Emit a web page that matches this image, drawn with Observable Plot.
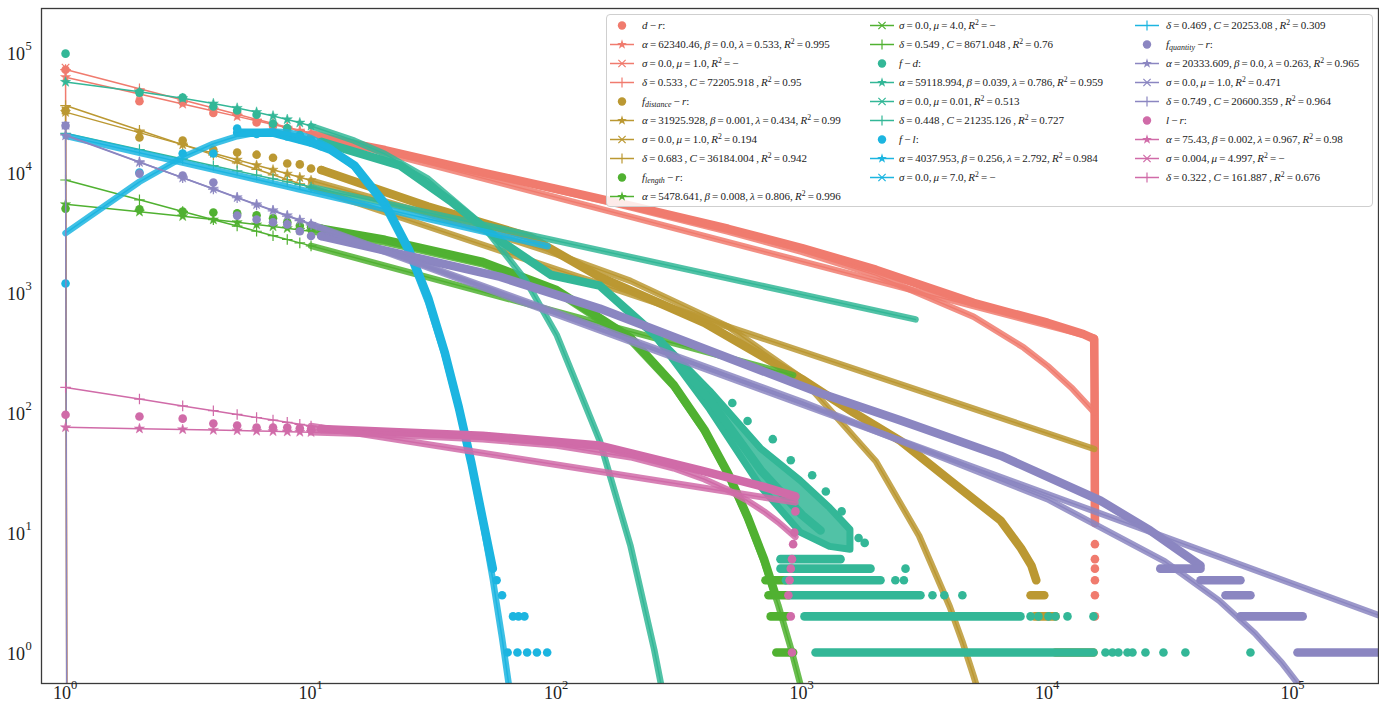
<!DOCTYPE html>
<html><head><meta charset="utf-8">
<script src="https://cdn.jsdelivr.net/npm/d3@7"></script>
<script src="https://cdn.jsdelivr.net/npm/@observablehq/plot@0.6"></script>
<style>
body{margin:0;background:#fff;}
#wrap{position:relative;width:1379px;height:715px;overflow:hidden;}
#legendBox{position:absolute;left:606px;top:14px;width:767px;height:193px;border:1px solid #cfcfcf;border-radius:4px;background:rgba(255,255,255,0.85);box-sizing:border-box;}
.li{position:absolute;height:19px;line-height:19px;white-space:nowrap;font-family:"Liberation Serif","DejaVu Serif",serif;font-size:11px;word-spacing:-0.6px;color:#1a1a1a;}
.li sup{font-size:0.7em;vertical-align:0.5em;line-height:0;}
.li sub{font-size:0.72em;vertical-align:-0.3em;line-height:0;}
.lh{position:absolute;}
</style></head><body><div id="wrap"></div>
<script>
// ---------- tick labels ----------
const X_TICKS = [1, 10, 100, 1000, 10000, 100000];
const Y_TICKS = [1, 10, 100, 1000, 10000, 100000];
const EXPONENTS = ["0", "1", "2", "3", "4", "5"];

// ---------- d - r ----------
const dr_dots = [[1,72000],[2,39300],[3,38500],[4,31400],[5,31400],[6,26200],[7,24500],[8,22400],[9,20300],[10,20000],[11,19500]];
const dr_band = [[11,19500],[20,15400],[50,10000],[100,7300],[200,5300],[500,3400],[1000,2350],[2000,1550],[5000,820],[10000,560],[14000,450],[15500,410],[15550,150],[15600,12]];
const dr_rows = [];
const dr_singles = [[15600,8],[15600,6],[15600,5],[15600,4],[15600,3],[15600,2]];
const dr_alpha = [[1,62332],[2,45104],[3,37323],[4,32629],[5,29400],[6,27000],[7,25130],[8,23608],[9,22343],[10,21270],[20,15348],[50,9968],[100,7167],[200,5121],[500,3217],[1000,2186],[2000,1398],[5000,628],[8000,348],[10000,244.5],[12500,161.6],[15500,100.7]];
const dr_sigma = [[1,75000],[2,1e-300]];
const dr_delta = [[1,72206],[2,49902],[3,40204],[4,34486],[5,30622],[6,27785],[7,25597],[8,23835],[9,22384],[10,21164],[15500,421.8]];

// ---------- f_distance - r ----------
const fdist_dots = [[1,32900],[2,19600],[3,18500],[4,15500],[5,14700],[6,14100],[7,13300],[8,11900],[9,11700],[10,10800],[11,10500]];
const fdist_band = [[11,10500],[30,5200],[78,2900],[150,1350],[400,560],[1000,190],[1622,100],[2518,58],[4027,27],[6440,12.6],[7800,7.4],[8600,5.3],[9000,4]];
const fdist_rows = [[8530,9700,3],[8860,10780,2],[10780,15390,1]];
const fdist_singles = [];
const fdist_alpha = [[1,31894],[2,21523],[3,17093],[4,14510],[5,12777],[6,11510],[7,10538],[8,9761],[9,9125],[10,8588],[20,5742],[50,3318],[100,2090],[200,1252],[500,520],[1000,192.8],[2000,39.2],[3000,9.38],[4000,2.40],[4500,1.234],[5000,0.638],[5300,0.43]];
const fdist_sigma = [[1,32900],[2,1e-300]];
const fdist_delta = [[1,36184],[2,22539],[3,17087],[4,14040],[5,12053],[6,10642],[7,9578],[8,8746],[9,8069],[10,7508],[15500,49.7]];

// ---------- f_length - r ----------
const flen_dots = [[1,5010],[2,4950],[3,4730],[4,4650],[5,4570],[6,4400],[7,4160],[8,3850],[9,3600],[10,3500],[11,3400]];
const flen_band = [[11,3400],[20,2750],[50,1800],[100,1050],[200,420],[300,170],[400,72],[500,31],[600,13.5],[700,6],[780,3]];
const flen_rows = [[710,860,4],[730,880,3],[745,873,2],[786,920,1]];
const flen_singles = [];
const flen_alpha = [[1,5435],[2,4713],[3,4322],[4,4055],[5,3852],[6,3689],[7,3551],[8,3433],[9,3328],[10,3236],[20,2611],[50,1719],[100,1007],[200,395.8],[300,164.4],[400,69.8],[500,30.06],[600,13.04],[700,5.68],[800,2.49],[900,1.094],[1000,0.481]];
const flen_sigma = [];
const flen_delta = [[1,8671],[2,5927],[3,4744],[4,4051],[5,3584],[6,3242],[7,2979],[8,2769],[9,2595],[10,2449],[920,204.6]];

// ---------- f - d ----------
const fd_dots = [[1,98000],[2,46400],[3,42200],[4,35500],[5,32900],[6,30400],[7,25600],[8,23500],[9,20500],[10,18500],[11,18000]];
const fd_band = [[11,18000],[23,11500],[37,5800],[59,2700],[95,1400],[150,1143],[250,450],[423,126],[680,33],[1000,14],[1190,10.4]];
// spread of the dense f-d cloud: lower and upper edges
const fd_cloud = [[250,450],[423,105],[680,24],[986,10],[1300,7.6],[1575,7.2]];
const fd_cloud_top = [[250,450],[423,150],[680,50],[986,27],[1300,16],[1575,10.5]];
const fd_rows = [[817,1435,6],[817,1901,5],[860,2088,4],[898,3038,3],[1023,7762,2],[1135,15390,1]];
const fd_singles = [[520,120],[600,85],[760,60],[900,40],[1100,30],[1250,22],[1450,15],[1700,9],[1800,8.2],[2640,5],[2400,4],[2600,4],[3400,3],[3800,3],[4500,3],[8530,2],[9190,2],[10090,2],[10780,2],[12060,2],[15390,2],[17220,1],[18390,1],[19450,1],[21170,1],[22190,1],[25060,1],[29670,1],[36450,1],[67100,1]];
const fd_alpha = [[1,56860],[2,47150],[3,41575],[4,37599],[5,34469],[6,31885],[7,29670],[8,27731],[9,26009],[10,24454],[15,18450],[20,14274],[30,8862],[50,3642],[75,1259],[100,446.7],[150,58.25],[200,7.79],[250,1.057],[270,0.4746]];
const fd_sigma = [];
const fd_delta = [[1,21235],[2,15568],[3,12981],[4,11412],[5,10327],[6,9516],[7,8881],[8,8365],[9,7936],[10,7568],[2900,597]];

// ---------- f - l ----------
const fl_dots = [[1,1190],[2,10000],[3,14400],[4,14400],[5,23300],[6,21000],[7,21500],[8,20000],[9,19000],[10,17800],[11,16600]];
const fl_band = [[5,21500],[7,21500],[10,17800],[12,15500],[15,11500],[20,5500],[25,2300],[30,900],[35,320],[40,110],[45,38],[50,13],[55,5]];
const fl_rows = [];
const fl_singles = [[57,4],[60,3],[66.5,2],[70,2],[74,2],[63.2,1],[69.3,1],[75.9,1],[83.2,1],[91.6,1]];
const fl_alpha = [[1,3128],[2,8380],[3,13418],[4,17392],[5,20083],[6,21570],[7,21990],[8,21640],[9,20683],[10,19337],[12,16070],[15,11116],[20,5176],[25,2148],[30,827],[35,302.9],[40,107.0],[45,36.77],[50,12.35],[55,4.08],[60,1.32],[65,0.425]];
const fl_sigma = [];
const fl_delta = [[1,20253],[2,14633],[3,12099],[4,10572],[5,9521],[6,8741],[7,8131],[8,7637],[9,7226],[10,6878],[92,2430]];

// ---------- f_quantity - r ----------
const fq_dots = [[1,24600],[2,9800],[3,9440],[4,8260],[5,4380],[6,4060],[7,3850],[8,3700],[9,3240],[10,2960],[11,2960]];
const fq_band = [[11,2960],[23,2100],[59,1350],[150,735],[1200,144],[2518,86],[6440,43.7],[16400,18.5],[26200,10.4],[42000,5.3]];
const fq_rows = [[28800,42000,5],[42000,61100,4],[53100,67100,3],[61100,109500,2],[104300,230000,1]];
const fq_singles = [];
const fq_alpha = [[1,20333],[2,12200],[3,9048],[4,7320],[5,6210],[6,5429],[7,4846],[8,4392],[9,4028],[10,3725],[100,682.8],[1000,122.7],[10000,18.96],[30000,5.76],[50000,2.705],[70000,1.444],[90000,0.821],[110000,0.484]];
const fq_sigma = [[1,24600],[2,1e-300]];
const fq_delta = [[1,20600],[2,12257],[3,9047],[4,7292],[5,6171],[6,5383],[7,4796],[8,4341],[9,3974],[10,3671],[230000,2.0]];

// ---------- l - r ----------
const lr_dots = [[1,96],[2,92.6],[3,89],[4,81],[5,78],[6,75],[7,75],[8,75],[9,74],[10,73],[11,73]];
const lr_band = [[11,73],[50,64],[150,53],[386,33],[700,24],[940,20]];
const lr_rows = [];
const lr_singles = [[940,15],[930,10],[920,8],[910,6],[900,5],[890,4],[880,3],[900,2],[910,1]];
const lr_alpha = [[1,75.28],[2,73.43],[3,72.31],[4,71.48],[5,70.82],[6,70.25],[7,69.75],[8,69.3],[9,68.9],[10,68.51],[20,65.65],[50,59.98],[100,53.05],[200,42.45],[300,34.3],[400,27.81],[500,22.6],[600,18.4],[700,14.99],[800,12.21],[940,9.19]];
const lr_sigma = [];
const lr_delta = [[1,161.9],[2,129.5],[3,113.6],[4,103.6],[5,96.42],[6,90.92],[7,86.51],[8,82.87],[9,79.8],[10,77.13],[940,17.85]];

// ---------- legend labels ----------
const LEGEND_LABELS = [
 "<i>d</i> − <i>r</i>:",
 "<i>α</i> = 62340.46, <i>β</i> = 0.0, <i>λ</i> = 0.533, <i>R</i><sup>2</sup> = 0.995",
 "<i>σ</i> = 0.0, <i>μ</i> = 1.0, <i>R</i><sup>2</sup> = −",
 "<i>δ</i> = 0.533 , <i>C</i> = 72205.918 , <i>R</i><sup>2</sup> = 0.95",
 "<i>f<sub>distance</sub></i> − <i>r</i>:",
 "<i>α</i> = 31925.928, <i>β</i> = 0.001, <i>λ</i> = 0.434, <i>R</i><sup>2</sup> = 0.99",
 "<i>σ</i> = 0.0, <i>μ</i> = 1.0, <i>R</i><sup>2</sup> = 0.194",
 "<i>δ</i> = 0.683 , <i>C</i> = 36184.004 , <i>R</i><sup>2</sup> = 0.942",
 "<i>f<sub>length</sub></i> − <i>r</i>:",
 "<i>α</i> = 5478.641, <i>β</i> = 0.008, <i>λ</i> = 0.806, <i>R</i><sup>2</sup> = 0.996",
 "<i>σ</i> = 0.0, <i>μ</i> = 4.0, <i>R</i><sup>2</sup> = −",
 "<i>δ</i> = 0.549 , <i>C</i> = 8671.048 , <i>R</i><sup>2</sup> = 0.76",
 "<i>f</i> − <i>d</i>:",
 "<i>α</i> = 59118.994, <i>β</i> = 0.039, <i>λ</i> = 0.786, <i>R</i><sup>2</sup> = 0.959",
 "<i>σ</i> = 0.0, <i>μ</i> = 0.01, <i>R</i><sup>2</sup> = 0.513",
 "<i>δ</i> = 0.448 , <i>C</i> = 21235.126 , <i>R</i><sup>2</sup> = 0.727",
 "<i>f</i> − <i>l</i>:",
 "<i>α</i> = 4037.953, <i>β</i> = 0.256, <i>λ</i> = 2.792, <i>R</i><sup>2</sup> = 0.984",
 "<i>σ</i> = 0.0, <i>μ</i> = 7.0, <i>R</i><sup>2</sup> = −",
 "<i>δ</i> = 0.469 , <i>C</i> = 20253.08 , <i>R</i><sup>2</sup> = 0.309",
 "<i>f<sub>quantity</sub></i> − <i>r</i>:",
 "<i>α</i> = 20333.609, <i>β</i> = 0.0, <i>λ</i> = 0.263, <i>R</i><sup>2</sup> = 0.965",
 "<i>σ</i> = 0.0, <i>μ</i> = 1.0, <i>R</i><sup>2</sup> = 0.471",
 "<i>δ</i> = 0.749 , <i>C</i> = 20600.359 , <i>R</i><sup>2</sup> = 0.964",
 "<i>l</i> − <i>r</i>:",
 "<i>α</i> = 75.43, <i>β</i> = 0.002, <i>λ</i> = 0.967, <i>R</i><sup>2</sup> = 0.98",
 "<i>σ</i> = 0.004, <i>μ</i> = 4.997, <i>R</i><sup>2</sup> = −",
 "<i>δ</i> = 0.322 , <i>C</i> = 161.887 , <i>R</i><sup>2</sup> = 0.676"
];

// ---------- styling ----------
const PALETTE = ["#F07B6E", "#BB9832", "#50B131", "#33B797", "#1CB5E0", "#8B86C1", "#D06BA8"];
const groups = [
  {dots:dr_dots, band:dr_band, rows:dr_rows, singles:dr_singles, alpha:dr_alpha, sigma:dr_sigma, delta:dr_delta, dense:10},
  {dots:fdist_dots, band:fdist_band, rows:fdist_rows, singles:fdist_singles, alpha:fdist_alpha, sigma:fdist_sigma, delta:fdist_delta, dense:10},
  {dots:flen_dots, band:flen_band, rows:flen_rows, singles:flen_singles, alpha:flen_alpha, sigma:flen_sigma, delta:flen_delta, dense:10},
  {dots:fd_dots, band:fd_band, rows:fd_rows, singles:fd_singles, alpha:fd_alpha, sigma:fd_sigma, delta:fd_delta, dense:10, cloudLow:fd_cloud, cloudHigh:fd_cloud_top},
  {dots:fl_dots, band:fl_band, rows:fl_rows, singles:fl_singles, alpha:fl_alpha, sigma:fl_sigma, delta:fl_delta, dense:1},
  {dots:fq_dots, band:fq_band, rows:fq_rows, singles:fq_singles, alpha:fq_alpha, sigma:fq_sigma, delta:fq_delta, dense:10},
  {dots:lr_dots, band:lr_band, rows:lr_rows, singles:lr_singles, alpha:lr_alpha, sigma:lr_sigma, delta:lr_delta, dense:10}
];
const DOT_R = 4.3, BAND_W = 8.6;
const X = d => d[0], Y = d => d[1];

function fitted(data, color, symbol, denseFrom) {
  const out = [];
  if (!data.length) return out;
  out.push(Plot.line(data, {x: X, y: Y, stroke: color, strokeWidth: 1.5, clip: true}));
  const dense = data.filter(d => d[0] >= denseFrom);
  if (dense.length > 1) out.push(Plot.line(dense, {x: X, y: Y, stroke: color, strokeWidth: 6.5, strokeOpacity: 0.85, clip: true}));
  const mk = denseFrom > 1 ? data.filter(d => d[0] <= 10 && d[1] > 1e-3) : [];
  const filled = symbol === "star";
  out.push(Plot.dot(mk, {x: X, y: Y, symbol, r: filled ? 3.2 : 3.5,
    fill: filled ? color : "none", stroke: color, strokeWidth: filled ? 0.5 : 1.2, clip: true}));
  return out;
}

const marks = [];
groups.forEach((g, i) => {
  const c = PALETTE[i];
  if (g.cloudLow) {
    const cloud = g.cloudLow.map((d, k) => ({x: d[0], lo: d[1], hi: g.cloudHigh[k][1]}));
    marks.push(Plot.areaY(cloud, {x: "x", y1: "lo", y2: "hi", fill: c, fillOpacity: 0.85, stroke: c, strokeWidth: 7, strokeLinejoin: "round", clip: true}));
  }
  if (g.band.length) marks.push(Plot.line(g.band, {x: X, y: Y, stroke: c, strokeWidth: BAND_W, strokeLinecap: "round", strokeLinejoin: "round", clip: true}));
  if (g.rows.length) marks.push(Plot.link(g.rows, {x1: d => d[0], x2: d => d[1], y1: d => d[2], y2: d => d[2], stroke: c, strokeWidth: BAND_W, strokeLinecap: "round", clip: true}));
  marks.push(Plot.dot(g.dots.concat(g.singles), {x: X, y: Y, r: DOT_R, fill: c, clip: true}));
  marks.push(...fitted(g.alpha, c, "star", g.dense));
  marks.push(...fitted(g.sigma, c, "times", 1e9));
  marks.push(...fitted(g.delta, c, "plus", g.dense));
});

const FONT = "Liberation Serif, DejaVu Serif, serif";
marks.push(Plot.frame({stroke: "#3a3a3a", strokeWidth: 1.3}));
marks.push(Plot.text(X_TICKS, {x: d => d, frameAnchor: "bottom", dy: 15, dx: -3.5, text: () => "10", fontSize: 18, fontFamily: FONT, fill: "#222"}));
marks.push(Plot.text(X_TICKS, {x: d => d, frameAnchor: "bottom", dy: 5, dx: 8.5, text: (d, i) => EXPONENTS[i], fontSize: 12.5, fontFamily: FONT, fill: "#222"}));
marks.push(Plot.text(Y_TICKS, {y: d => d, frameAnchor: "left", dx: -16.5, dy: 2, textAnchor: "end", text: () => "10", fontSize: 18, fontFamily: FONT, fill: "#222"}));
marks.push(Plot.text(Y_TICKS, {y: d => d, frameAnchor: "left", dx: -16, dy: -7, textAnchor: "start", text: (d, i) => EXPONENTS[i], fontSize: 12.5, fontFamily: FONT, fill: "#222"}));

const chart = Plot.plot({
  width: 1379, height: 715,
  marginLeft: 41, marginRight: 1, marginTop: 8, marginBottom: 32,
  x: {type: "log", domain: [0.798, 2.23e5], axis: null},
  y: {type: "log", domain: [0.552, 2.33e5], axis: null},
  style: {background: "#fff"},
  marks
});
const wrap = document.getElementById("wrap");
wrap.appendChild(chart);

// ---------- legend ----------
const box = document.createElement("div");
box.id = "legendBox";
wrap.appendChild(box);
const COL_HANDLE = [610, 870, 1135], COL_TEXT = [642, 899, 1166];
const KINDS = ["dot", "star", "times", "plus"];
LEGEND_LABELS.forEach((lab, i) => {
  const col = i < 10 ? 0 : (i < 19 ? 1 : 2);
  const row = i < 10 ? i : (i < 19 ? i - 10 : i - 19);
  const cy = 25.5 + 19 * row;
  const color = PALETTE[Math.floor(i / 4)];
  const kind = KINDS[i % 4];
  const s = d3.create("svg").attr("class", "lh").attr("width", 26).attr("height", 19)
    .style("left", COL_HANDLE[col] + "px").style("top", (cy - 9.5) + "px");
  if (kind === "dot") {
    s.append("circle").attr("cx", 12).attr("cy", 9.5).attr("r", 4.2).attr("fill", color);
  } else {
    s.append("line").attr("x1", 0).attr("x2", 24).attr("y1", 9.5).attr("y2", 9.5).attr("stroke", color).attr("stroke-width", 1.5);
    const sym = kind === "star" ? d3.symbolStar : (kind === "times" ? d3.symbolTimes : d3.symbolPlus);
    const p = s.append("path").attr("transform", "translate(12,9.5)").attr("d", d3.symbol(sym, kind === "star" ? 30 : 36)());
    if (kind === "star") p.attr("fill", color); else p.attr("fill", "none").attr("stroke", color).attr("stroke-width", 1.2);
  }
  wrap.appendChild(s.node());
  const t = document.createElement("div");
  t.className = "li";
  t.style.left = COL_TEXT[col] + "px";
  t.style.top = (cy - 9.5) + "px";
  t.innerHTML = lab;
  wrap.appendChild(t);
});
</script></body></html>
